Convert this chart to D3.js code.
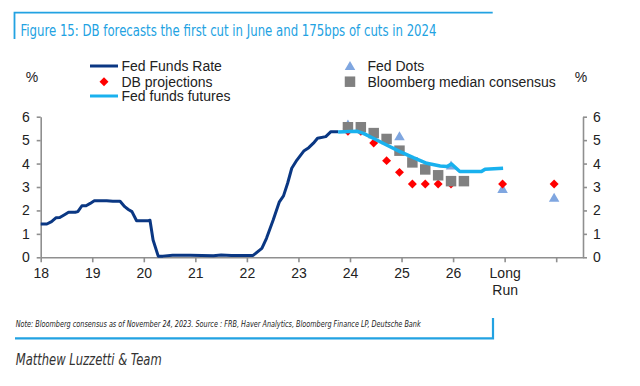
<!DOCTYPE html>
<html>
<head>
<meta charset="utf-8">
<script src="https://cdn.jsdelivr.net/npm/d3@7"></script>
<style>
  body { margin: 0; background: #fff; }
  svg { display: block; font-family: "Liberation Sans", Arial, sans-serif; }
</style>
</head>
<body>
<div id="chart"></div>
<script>
// Fed funds rate, [year, %]  (18 = Jan 2018)
var fedFundsRate = [
  [18.0, 1.42], [18.12, 1.42], [18.21, 1.52], [18.3, 1.69], [18.37, 1.70], [18.47, 1.83],
  [18.54, 1.92], [18.67, 1.92], [18.72, 1.95], [18.8, 2.2], [18.88, 2.2], [18.96, 2.3],
  [19.04, 2.41], [19.28, 2.41], [19.4, 2.39], [19.54, 2.39], [19.63, 2.16], [19.7, 2.04],
  [19.77, 1.95], [19.86, 1.56], [20.09, 1.56], [20.12, 1.58], [20.18, 0.74], [20.28, 0.05],
  [20.37, 0.05], [20.56, 0.09], [20.9, 0.09], [21.35, 0.07], [21.5, 0.1], [21.7, 0.08],
  [22.12, 0.08], [22.29, 0.38], [22.38, 0.81], [22.51, 1.59], [22.63, 2.37], [22.71, 2.62],
  [22.79, 3.16], [22.87, 3.8], [22.97, 4.15], [23.11, 4.55], [23.2, 4.68], [23.29, 4.87],
  [23.37, 5.08], [23.53, 5.15], [23.63, 5.36], [23.77, 5.36]
];

// Fed funds futures implied path
var futures = [
  [23.77, 5.35], [24.13, 5.38], [24.26, 5.29], [24.45, 5.08], [24.71, 4.79], [24.97, 4.51],
  [25.23, 4.25], [25.49, 4.01], [25.75, 3.9], [25.88, 3.87], [25.97, 3.98], [26.13, 3.66],
  [26.55, 3.66], [26.62, 3.76], [26.97, 3.8]
];

var fedDots = [[23.96, 5.625], [24.96, 5.125], [25.96, 3.875], [26.96, 2.875], [27.96, 2.5]];

var bbgConsensus = [
  [23.96, 5.55], [24.21, 5.55], [24.46, 5.3], [24.71, 5.05], [24.96, 4.55],
  [25.21, 4.05], [25.46, 3.75], [25.71, 3.5], [25.96, 3.25], [26.21, 3.25]
];

var dbProjections = [
  [23.96, 5.375], [24.21, 5.375], [24.46, 4.875], [24.71, 4.125], [24.96, 3.625],
  [25.21, 3.125], [25.46, 3.125], [25.71, 3.125], [25.96, 3.125], [26.96, 3.125], [27.96, 3.125]
];

var xTicks = [18, 19, 20, 21, 22, 23, 24, 25, 26, 27, 28];
var xTickLabels = ["18", "19", "20", "21", "22", "23", "24", "25", "26", "Long", ""];
var yTicks = [0, 1, 2, 3, 4, 5, 6];

var navy = "#0a3783", lightBlue = "#19b1ee", red = "#ff0000", grey = "#808080",
    dotBlue = "#7fa6e0", frameBlue = "#22a2e2", axisGrey = "#8f8f8f";

var svg = d3.select("#chart").append("svg")
  .attr("width", 640)
  .attr("height", 386);

// frame and title
svg.append("path")
  .attr("d", "M14.5,39 V12.7 H492.7")
  .attr("fill", "none").attr("stroke", frameBlue).attr("stroke-width", 1.8);
svg.append("text")
  .attr("x", 20.5).attr("y", 36)
  .attr("font-family", "'Liberation Sans Narrow', 'Arial Narrow', 'DejaVu Sans Condensed', sans-serif")
  .attr("font-size", 16.5)
  .attr("fill", frameBlue)
  .attr("textLength", 416).attr("lengthAdjust", "spacingAndGlyphs")
  .text("Figure 15: DB forecasts the first cut in June and 175bps of cuts in 2024");

var x = d3.scaleLinear().domain([18, 28.52]).range([40.7, 583]);
var y = d3.scaleLinear().domain([0, 6]).range([257.3, 116.7]);

// axes
var gx = svg.append("g")
  .attr("transform", "translate(0," + y(0) + ")")
  .call(d3.axisBottom(x).tickValues(xTicks)
    .tickFormat(function (d, i) { return xTickLabels[i]; })
    .tickSize(5).tickSizeOuter(0).tickPadding(6));

var gl = svg.append("g")
  .attr("transform", "translate(" + x(18) + ",0)")
  .call(d3.axisLeft(y).tickValues(yTicks).tickFormat(d3.format("d"))
    .tickSize(4).tickSizeOuter(0).tickPadding(7));

var gr = svg.append("g")
  .attr("transform", "translate(" + x.range()[1] + ",0)")
  .call(d3.axisRight(y).tickValues(yTicks).tickFormat(d3.format("d"))
    .tickSize(4).tickSizeOuter(0).tickPadding(6));

[gx, gl, gr].forEach(function (g) {
  g.selectAll("path, line").attr("stroke", axisGrey).attr("stroke-width", 1.6);
  g.selectAll("text").attr("font-size", 14).attr("fill", "#222")
    .attr("font-family", "'Liberation Sans', Arial, sans-serif");
});

// second line of the "Long Run" label
gx.selectAll(".tick").filter(function (d) { return d === 27; })
  .append("text")
  .attr("y", 28).attr("dy", "0.71em")
  .attr("fill", "#222").attr("font-size", 14)
  .attr("font-family", "'Liberation Sans', Arial, sans-serif")
  .text("Run");

svg.append("text").attr("x", 32).attr("y", 82).attr("text-anchor", "middle")
  .attr("font-size", 14).attr("fill", "#222").text("%");
svg.append("text").attr("x", 581).attr("y", 82).attr("text-anchor", "middle")
  .attr("font-size", 14).attr("fill", "#222").text("%");

// series
var line = d3.line()
  .x(function (d) { return x(d[0]); })
  .y(function (d) { return y(d[1]); });

svg.append("path").datum(fedFundsRate)
  .attr("d", line).attr("fill", "none")
  .attr("stroke", navy).attr("stroke-width", 3).attr("stroke-linejoin", "round");

var tri = d3.symbol().type(d3.symbolTriangle).size(48);
var sq = d3.symbol().type(d3.symbolSquare).size(110);
var dia = d3.symbol().type(d3.symbolSquare).size(40);

svg.append("g").selectAll("path")
  .data(fedDots).enter().append("path")
  .attr("d", tri)
  .attr("transform", function (d) { return "translate(" + x(d[0]) + "," + y(d[1]) + ")"; })
  .attr("fill", dotBlue);

svg.append("g").selectAll("path")
  .data(dbProjections).enter().append("path")
  .attr("d", dia)
  .attr("transform", function (d) { return "translate(" + x(d[0]) + "," + y(d[1]) + ") rotate(45)"; })
  .attr("fill", red);

svg.append("g").selectAll("path")
  .data(bbgConsensus).enter().append("path")
  .attr("d", sq)
  .attr("transform", function (d) { return "translate(" + x(d[0]) + "," + y(d[1]) + ")"; })
  .attr("fill", grey);

svg.append("path").datum(futures)
  .attr("d", line).attr("fill", "none")
  .attr("stroke", lightBlue).attr("stroke-width", 3.5).attr("stroke-linejoin", "round");

// legend
var legend = svg.append("g").attr("font-size", 14).attr("fill", "#222");

legend.append("line").attr("x1", 90).attr("x2", 118).attr("y1", 66).attr("y2", 66)
  .attr("stroke", navy).attr("stroke-width", 3);
legend.append("text").attr("x", 121.5).attr("y", 71).text("Fed Funds Rate");

legend.append("path").attr("d", dia)
  .attr("transform", "translate(104,81.7) rotate(45)").attr("fill", red);
legend.append("text").attr("x", 121.5).attr("y", 86.5).text("DB projections");

legend.append("line").attr("x1", 90).attr("x2", 118).attr("y1", 96).attr("y2", 96)
  .attr("stroke", lightBlue).attr("stroke-width", 3);
legend.append("text").attr("x", 121.5).attr("y", 101).text("Fed funds futures");

legend.append("path").attr("d", tri)
  .attr("transform", "translate(350,67)").attr("fill", dotBlue);
legend.append("text").attr("x", 367.5).attr("y", 71).text("Fed Dots");

legend.append("path").attr("d", sq)
  .attr("transform", "translate(350,81.7)").attr("fill", grey);
legend.append("text").attr("x", 367.5).attr("y", 86.5).text("Bloomberg median consensus");

// footer
svg.append("text")
  .attr("x", 15.7).attr("y", 326.8)
  .attr("font-family", "'Liberation Sans Narrow', 'Arial Narrow', 'DejaVu Sans Condensed', sans-serif")
  .attr("font-style", "italic").attr("font-size", 8.5)
  .attr("fill", "#222")
  .attr("textLength", 405).attr("lengthAdjust", "spacingAndGlyphs")
  .text("Note: Bloomberg consensus as of November 24, 2023. Source : FRB, Haver Analytics, Bloomberg Finance LP, Deutsche Bank");

svg.append("path")
  .attr("d", "M15,338.4 H493 V318")
  .attr("fill", "none").attr("stroke", frameBlue).attr("stroke-width", 2.2);

svg.append("text")
  .attr("x", 15.7).attr("y", 364.5)
  .attr("font-family", "'Liberation Sans Narrow', 'Arial Narrow', 'DejaVu Sans Condensed', sans-serif")
  .attr("font-style", "italic").attr("font-size", 16.5)
  .attr("fill", "#333")
  .attr("textLength", 146).attr("lengthAdjust", "spacingAndGlyphs")
  .text("Matthew Luzzetti & Team");
</script>
</body>
</html>
